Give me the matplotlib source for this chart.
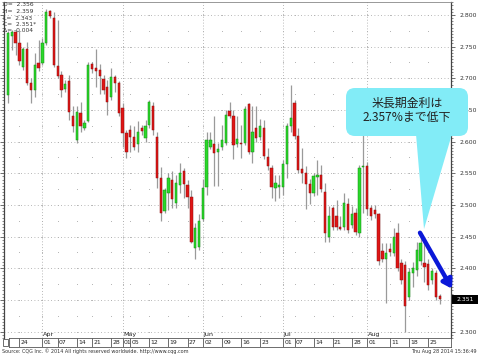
import numpy as np
import pandas as pd
import matplotlib
matplotlib.use('Agg')
import matplotlib.pyplot as plt
import matplotlib.transforms as mtrans
from matplotlib.patches import FancyBboxPatch, Polygon, Rectangle

plt.rcParams['font.family'] = ['DejaVu Sans']

W, H = 478, 356

# trading days shown (US holidays removed)
holidays = ['2014-04-18', '2014-05-26', '2014-07-04']
dates = pd.bdate_range('2014-03-19', '2014-08-28')
dates = dates[~dates.isin(pd.to_datetime(holidays))]

opens = [2.674, 2.767, 2.773, 2.755, 2.718, 2.746, 2.693, 2.682, 2.724, 2.724,
         2.755, 2.806, 2.796, 2.720, 2.705, 2.683, 2.695, 2.641, 2.602, 2.645,
         2.622, 2.633, 2.722, 2.716, 2.713, 2.699, 2.686, 2.671, 2.702, 2.693,
         2.653, 2.613, 2.619, 2.608, 2.597, 2.622, 2.606, 2.626, 2.656, 2.608,
         2.542, 2.490, 2.519, 2.540, 2.503, 2.532, 2.554, 2.532, 2.513, 2.432,
         2.434, 2.478, 2.528, 2.592, 2.596, 2.583, 2.591, 2.598, 2.649, 2.641,
         2.597, 2.598, 2.598, 2.660, 2.583, 2.621, 2.607, 2.622, 2.576, 2.558,
         2.527, 2.528, 2.528, 2.565, 2.625, 2.661, 2.609, 2.557, 2.550, 2.533,
         2.519, 2.544, 2.548, 2.521, 2.450, 2.495, 2.482, 2.466, 2.466, 2.502,
         2.469, 2.488, 2.455, 2.560, 2.562, 2.495, 2.492, 2.486, 2.427, 2.414,
         2.430, 2.424, 2.455, 2.408, 2.405, 2.355, 2.393, 2.398, 2.411, 2.409,
         2.407, 2.382, 2.393, 2.356]
highs = [2.775, 2.776, 2.776, 2.775, 2.750, 2.758, 2.700, 2.740, 2.761, 2.764,
         2.809, 2.808, 2.805, 2.792, 2.711, 2.697, 2.705, 2.656, 2.656, 2.663,
         2.634, 2.726, 2.726, 2.746, 2.722, 2.705, 2.697, 2.716, 2.705, 2.695,
         2.661, 2.619, 2.627, 2.624, 2.632, 2.627, 2.634, 2.666, 2.663, 2.616,
         2.560, 2.527, 2.551, 2.553, 2.548, 2.566, 2.558, 2.540, 2.524, 2.472,
         2.486, 2.541, 2.616, 2.616, 2.640, 2.598, 2.627, 2.650, 2.662, 2.650,
         2.641, 2.627, 2.656, 2.661, 2.656, 2.656, 2.635, 2.634, 2.590, 2.563,
         2.548, 2.548, 2.571, 2.629, 2.690, 2.666, 2.621, 2.590, 2.561, 2.541,
         2.550, 2.571, 2.563, 2.535, 2.498, 2.498, 2.508, 2.482, 2.519, 2.511,
         2.498, 2.495, 2.563, 2.624, 2.568, 2.500, 2.500, 2.487, 2.440, 2.440,
         2.440, 2.464, 2.471, 2.414, 2.411, 2.400, 2.410, 2.442, 2.451, 2.440,
         2.415, 2.401, 2.398, 2.359]
lows = [2.661, 2.745, 2.737, 2.721, 2.713, 2.689, 2.661, 2.671, 2.712, 2.721,
        2.752, 2.795, 2.718, 2.700, 2.671, 2.679, 2.634, 2.616, 2.598, 2.616,
        2.619, 2.631, 2.708, 2.687, 2.676, 2.676, 2.642, 2.666, 2.679, 2.641,
        2.592, 2.574, 2.584, 2.587, 2.584, 2.611, 2.600, 2.621, 2.611, 2.527,
        2.474, 2.487, 2.492, 2.496, 2.496, 2.519, 2.511, 2.496, 2.440, 2.414,
        2.429, 2.474, 2.516, 2.589, 2.530, 2.530, 2.587, 2.594, 2.637, 2.572,
        2.592, 2.574, 2.594, 2.580, 2.566, 2.600, 2.602, 2.572, 2.556, 2.511,
        2.506, 2.511, 2.516, 2.542, 2.616, 2.604, 2.550, 2.535, 2.494, 2.502,
        2.514, 2.516, 2.520, 2.442, 2.442, 2.461, 2.461, 2.460, 2.461, 2.456,
        2.464, 2.453, 2.450, 2.488, 2.484, 2.476, 2.480, 2.405, 2.410, 2.345,
        2.420, 2.420, 2.395, 2.375, 2.300, 2.350, 2.370, 2.388, 2.405, 2.379,
        2.366, 2.375, 2.350, 2.343]
closes = [2.771, 2.773, 2.755, 2.727, 2.746, 2.692, 2.681, 2.721, 2.716, 2.755,
          2.804, 2.798, 2.721, 2.704, 2.681, 2.691, 2.647, 2.624, 2.647, 2.624,
          2.630, 2.721, 2.715, 2.712, 2.704, 2.681, 2.663, 2.702, 2.692, 2.645,
          2.613, 2.583, 2.608, 2.592, 2.616, 2.617, 2.624, 2.662, 2.619, 2.542,
          2.488, 2.523, 2.542, 2.509, 2.535, 2.550, 2.533, 2.513, 2.442, 2.464,
          2.474, 2.527, 2.603, 2.603, 2.582, 2.588, 2.603, 2.642, 2.641, 2.595,
          2.604, 2.597, 2.651, 2.584, 2.616, 2.606, 2.625, 2.577, 2.561, 2.529,
          2.535, 2.531, 2.565, 2.625, 2.637, 2.609, 2.555, 2.550, 2.533, 2.519,
          2.546, 2.548, 2.525, 2.456, 2.482, 2.466, 2.466, 2.462, 2.503, 2.460,
          2.485, 2.458, 2.558, 2.562, 2.494, 2.482, 2.485, 2.411, 2.415, 2.424,
          2.425, 2.450, 2.400, 2.382, 2.340, 2.394, 2.400, 2.429, 2.440, 2.402,
          2.374, 2.395, 2.355, 2.351]

tick_dates = ['2014-03-24', '2014-04-01', '2014-04-07', '2014-04-14', '2014-04-21',
              '2014-04-28', '2014-05-01', '2014-05-05', '2014-05-12', '2014-05-19',
              '2014-05-27', '2014-06-02', '2014-06-09', '2014-06-16', '2014-06-23',
              '2014-07-01', '2014-07-07', '2014-07-14', '2014-07-21', '2014-07-28',
              '2014-08-01', '2014-08-11', '2014-08-18', '2014-08-25']
tick_labels = ['24', '01', '07', '14', '21', '28', '01', '05', '12', '19', '27',
               '02', '09', '16', '23', '01', '07', '14', '21', '28', '01', '11',
               '18', '25']
month_starts = ['2014-04-01', '2014-05-01', '2014-06-02', '2014-07-01', '2014-08-01']
month_names = ['Apr', 'May', 'Jun', 'Jul', 'Aug']
price_ticks = np.round(np.arange(2.30, 2.801, 0.05), 3)

ohlc_lines = ['O=  2.356', 'H=  2.359', 'L=  2.343', 'C=  2.351*', 'Δ= -0.004']
last_price = 2.351
callout_text = '米長期金利は\n2.357%まで低下'

opens, highs, lows, closes = map(np.array, (opens, highs, lows, closes))
xs = np.arange(len(dates))
tick_pos = [dates.get_loc(pd.Timestamp(d)) for d in tick_dates]
month_pos = [dates.get_loc(pd.Timestamp(d)) for d in month_starts]

# pixel layout of the plot area
X0_PX, STEP_PX = 8.0, 3.82
L_PX, R_PX, T_PX, B_PX = 3.5, 451.0, 2.0, 338.0


def px2j(px):
    return (px - X0_PX) / STEP_PX


def px2v(py):
    return 2.3 + (332 - py) / 634


fig = plt.figure(figsize=(W / 100, H / 100), dpi=100)
ax = fig.add_axes([L_PX / W, 1 - B_PX / H, (R_PX - L_PX) / W, (B_PX - T_PX) / H])
ax.set_xlim(px2j(L_PX), px2j(R_PX))
ax.set_ylim(px2v(B_PX), px2v(T_PX))

gcol = '#a0a0a0'
for p in price_ticks:
    ax.axhline(p, color=gcol, lw=0.6, dashes=(1, 3), zorder=0)
for m in month_pos:
    ax.axvline(m, color=gcol, lw=0.6, dashes=(1, 2.5), zorder=0)
qx, qy = np.meshgrid(tick_pos, np.arange(2.30, 2.81, 0.025))
ax.plot(qx.ravel(), qy.ravel(), 's', ms=0.6, mew=0, color='#b0b0b0', zorder=0)

# candles
up = closes >= opens
ax.vlines(xs, lows, highs, color='#9a9a9a', lw=0.9, zorder=1)
bot = np.minimum(opens, closes)
hgt = np.maximum(np.abs(closes - opens), 0.0012)
ax.bar(xs[up], hgt[up], bottom=bot[up], width=0.6, color='#2ad82a',
       edgecolor='#138a13', lw=0.35, zorder=2)
ax.bar(xs[~up], hgt[~up], bottom=bot[~up], width=0.6, color='#e01515',
       edgecolor='#8a1010', lw=0.35, zorder=2)

for m, name in zip(month_pos, month_names):
    ax.text(m + 0.2, 0.004, name, transform=ax.get_xaxis_transform(),
            fontsize=4.6, va='bottom', ha='left', color='#222222')

ax.set_xticks([])
ax.yaxis.tick_right()
ax.set_yticks(price_ticks)
# the last-price box hides the level right next to it
ax.set_yticklabels(['' if abs(p - last_price) < 0.01 else '%.3f' % p
                    for p in price_ticks])
ax.set_yticks(np.arange(2.29, 2.821, 0.005), minor=True)
ax.tick_params(axis='y', which='major', left=True, right=True, labelleft=False,
               labelright=True, length=3, width=0.5, pad=3, labelsize=4.4,
               colors='#333333', direction='out')
ax.tick_params(axis='y', which='minor', left=True, right=True, length=1.5,
               width=0.4, color='#333333', direction='out')
for s in ['left', 'right']:
    ax.spines[s].set_color('#444444')
    ax.spines[s].set_linewidth(0.9)
ax.spines['top'].set_color('#888888')
ax.spines['top'].set_linewidth(0.6)
ax.spines['bottom'].set_visible(False)

# last price box
yb = 1 - (332 - (last_price - 2.3) * 634) / H
fig.patches.append(Rectangle((452 / W, yb - 4.5 / H), 26 / W, 9 / H,
                             transform=fig.transFigure, fc='black', ec='none',
                             zorder=8))
fig.text(465 / W, yb, '%.3f' % last_price, fontsize=4.4, color='white',
         va='center', ha='center', zorder=9)

# blue arrow
ann = ax.annotate('', xy=(px2j(452), px2v(289)), xytext=(px2j(420), px2v(233)),
                  arrowprops=dict(arrowstyle='-|>,head_length=0.5,head_width=0.32',
                                  color='#0b18d8', lw=3.2, shrinkA=0, shrinkB=0),
                  annotation_clip=False, zorder=5)
ann.arrow_patch.set_clip_on(False)

# date row under the plot
ax2 = fig.add_axes([8.5 / W, 1 - 346.5 / H, (R_PX - 8.5) / W, 8.5 / H])
ax2.set_xlim(px2j(8.5), px2j(R_PX))
ax2.set_ylim(0, 1)
ax2.set_xticks([])
ax2.set_yticks([])
for s in ax2.spines.values():
    s.set_color('#555555')
    s.set_linewidth(0.6)
ax2.vlines(tick_pos, 0, 1, color='#555555', lw=0.6)
for p, lab in zip(tick_pos, tick_labels):
    ax2.text(p + 0.35, 0.45, lab, fontsize=4.4, va='center', ha='left', color='#222222')

fig.patches.append(Rectangle((2.5 / W, 1 - 345.5 / H), 5.5 / W, 7 / H,
                             transform=fig.transFigure, fill=False,
                             ec='#555555', lw=0.6))

# OHLC readout
for i, line in enumerate(ohlc_lines):
    fig.text(3 / W, 1 - (5 + 6.5 * i) / H, line, fontsize=4.3, va='center',
             ha='left', color='#333333')

fig.text(2 / W, 1 - 351 / H,
         'Source: CQG Inc. © 2014 All rights reserved worldwide. http://www.cqg.com',
         fontsize=3.5, va='center', ha='left', color='#333333')
fig.text(477 / W, 1 - 351 / H, 'Thu Aug 28 2014 15:36:49', fontsize=3.5,
         va='center', ha='right', color='#333333')

# callout bubble (pixel space)
pt = mtrans.Affine2D().scale(1 / W, 1 / H) + fig.transFigure


def bp(x, y):
    return (x, H - y)


cyan = '#82ecf7'
box = FancyBboxPatch(bp(346, 136), 122, 48, boxstyle='round,pad=0,rounding_size=9',
                     transform=pt, fc=cyan, ec='none', zorder=6)
tail = Polygon([bp(416, 134), bp(452, 134), bp(424, 229)], closed=True,
               transform=pt, fc=cyan, ec='none', zorder=6)
fig.patches.extend([box, tail])
fig.text(407 / W, 1 - 110 / H, callout_text, fontsize=8.6, ha='center', va='center',
         linespacing=1.15, color='#222222', zorder=7,
         family=['Noto Sans CJK JP', 'DejaVu Sans'])

fig.savefig('out.png', dpi=100)
